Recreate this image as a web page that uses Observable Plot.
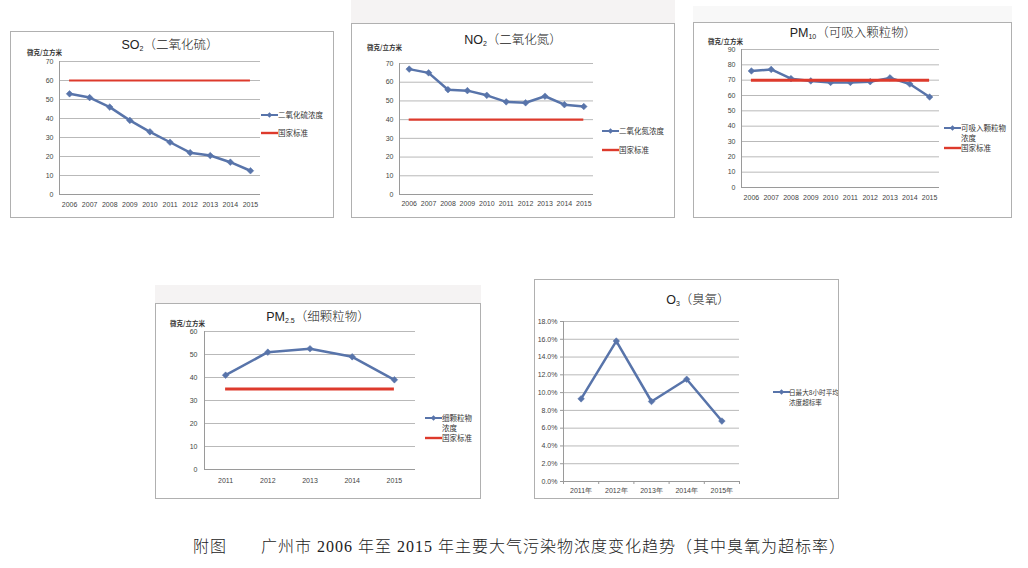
<!DOCTYPE html>
<html><head><meta charset="utf-8">
<script src="https://cdn.jsdelivr.net/npm/d3@7"></script>
<script src="https://cdn.jsdelivr.net/npm/@observablehq/plot@0.6"></script>
<style>
body{margin:0;background:#fff;}
#page{position:relative;width:1028px;height:568px;overflow:hidden;background:#fff;font-family:"Liberation Sans","Noto Sans CJK SC",sans-serif;}
.panel{position:absolute;background:#fff;overflow:hidden;}
.panel svg.plot{position:absolute;left:0;top:0;}
.border{position:absolute;left:0;top:0;right:0;bottom:0;border:1px solid #b0b0b0;box-sizing:border-box;pointer-events:none;}
.title{position:absolute;transform:translate(-50%,-50%);white-space:nowrap;font-size:12.5px;line-height:14px;color:#222;font-family:"Liberation Sans","Noto Sans CJK SC",sans-serif;font-weight:300;}
.title sub{font-size:7px;vertical-align:-2px;}
.unit{position:absolute;transform:translateY(-50%);white-space:nowrap;font-size:6.5px;line-height:8px;font-weight:bold;color:#333;font-family:"Noto Sans CJK SC",sans-serif;}
.legtext{position:absolute;white-space:nowrap;font-size:7.5px;line-height:10px;color:#333;font-family:"Noto Sans CJK SC",sans-serif;}
.shade{position:absolute;background:#f5f3f3;}
#caption{position:absolute;left:193px;top:538px;white-space:nowrap;font-size:16px;line-height:18px;letter-spacing:1px;color:#222;font-family:"Liberation Serif","Noto Sans CJK SC",serif;font-weight:300;}
</style>
</head><body>
<div id="page"></div>
<script>
// ---------------- data ----------------
const YEARS_10 = [2006, 2007, 2008, 2009, 2010, 2011, 2012, 2013, 2014, 2015];
const YEARS_5 = [2011, 2012, 2013, 2014, 2015];

const SO2 = [53, 51, 46, 39, 33, 27.5, 22, 20.5, 17, 12.5];
const SO2_STD = 60;
const NO2 = [67, 65, 56, 55.5, 53, 49.5, 49, 52.5, 48, 47];
const NO2_STD = 40;
const PM10 = [76, 77, 71, 69.5, 68.5, 68.5, 69, 71.5, 67.5, 59];
const PM10_STD = 70;
const PM25 = [41, 51, 52.5, 49, 39];
const PM25_STD = 35;
const O3 = [9.3, 15.8, 9.0, 11.5, 6.8];

const TICKS_0_70 = [0, 10, 20, 30, 40, 50, 60, 70];
const TICKS_0_90 = [0, 10, 20, 30, 40, 50, 60, 70, 80, 90];
const TICKS_0_60 = [0, 10, 20, 30, 40, 50, 60];
const TICKS_O3 = [0, 2, 4, 6, 8, 10, 12, 14, 16, 18];

const UNIT = "微克/立方米";
const STD_LABEL = "国家标准";
const CAPTION = "附图　　广州市 2006 年至 2015 年主要大气污染物浓度变化趋势（其中臭氧为超标率）";

// ---------------- style ----------------
const BLUE = "#5874aa";
const RED = "#dd3a2c";
const GRID = "#b9b9b9";
const AXIS = "#9a9a9a";
const TEXT = "#444";

const page = document.getElementById("page");

function el(tag, cls, parent, css, html) {
  const e = document.createElement(tag);
  if (cls) e.className = cls;
  if (css) Object.assign(e.style, css);
  if (html != null) e.innerHTML = html;
  parent.appendChild(e);
  return e;
}

function swatch(parent, x, y, kind) {
  const ns = "http://www.w3.org/2000/svg";
  const s = document.createElementNS(ns, "svg");
  s.setAttribute("width", 17); s.setAttribute("height", 8);
  Object.assign(s.style, {position: "absolute", left: x + "px", top: (y - 4) + "px"});
  const l = document.createElementNS(ns, "line");
  l.setAttribute("x1", 0); l.setAttribute("x2", 17); l.setAttribute("y1", 4); l.setAttribute("y2", 4);
  l.setAttribute("stroke", kind === "blue" ? BLUE : RED);
  l.setAttribute("stroke-width", kind === "blue" ? 2 : 2.4);
  s.appendChild(l);
  if (kind === "blue") {
    const d = document.createElementNS(ns, "path");
    d.setAttribute("d", "M8.5,1.2L11.3,4L8.5,6.8L5.7,4Z");
    d.setAttribute("fill", BLUE);
    s.appendChild(d);
  }
  parent.appendChild(s);
}

function drawPanel(p) {
  const panel = el("div", "panel", page, {left: p.left + "px", top: p.top + "px", width: p.w + "px", height: p.h + "px"});
  const data = p.years.map((year, i) => ({year, value: p.values[i]}));
  const xDomain = [d3.min(p.years) - 0.5, d3.max(p.years) + 0.5];
  const yDomain = [d3.min(p.yTicks), d3.max(p.yTicks)];
  const marks = [
    Plot.ruleY(p.yTicks.slice(1), {stroke: GRID, strokeWidth: 1}),
    Plot.ruleY([yDomain[0]], {stroke: AXIS, strokeWidth: 1}),
    Plot.ruleX([xDomain[0]], {stroke: AXIS, strokeWidth: 1}),
    Plot.axisY(p.yTicks, {tickSize: p.yTickSize || 0, tickPadding: p.yPad, tickFormat: p.yFormat, fill: TEXT, stroke: AXIS, label: null, fontSize: 7}),
    Plot.axisX(p.years, {tickSize: 0, tickPadding: p.xPad, tickFormat: p.xFormat, fill: TEXT, label: null, fontSize: 7})
  ];
  if (p.boundaryTicks) {
    marks.push(Plot.axisX(d3.range(xDomain[0], xDomain[1] + 0.5, 1), {tickSize: 3, tickFormat: () => "", stroke: AXIS, label: null}));
  }
  marks.push(
    Plot.lineY(data, {x: "year", y: "value", stroke: BLUE, strokeWidth: 2.5}),
    Plot.dot(data, {x: "year", y: "value", symbol: "diamond2", r: 3, fill: BLUE, stroke: BLUE, strokeWidth: 0.5})
  );
  if (p.std != null) {
    marks.push(Plot.ruleY([p.std], {x1: d3.min(p.years), x2: d3.max(p.years), stroke: RED, strokeWidth: p.stdWidth}));
  }
  const svg = Plot.plot({
    width: p.w, height: p.h,
    marginLeft: p.ml, marginRight: p.mr, marginTop: p.mt, marginBottom: p.mb,
    x: {domain: xDomain},
    y: {domain: yDomain},
    style: {background: "transparent", fontSize: "7px", fontFamily: "Liberation Sans, DejaVu Sans, sans-serif", color: TEXT, overflow: "visible"},
    marks
  });
  svg.classList.add("plot");
  panel.appendChild(svg);
  el("div", "title", panel, {left: p.titleX + "px", top: p.titleY + "px"}, p.title);
  if (p.unitY != null) el("div", "unit", panel, {left: p.unitX + "px", top: p.unitY + "px"}, UNIT);
  p.legend.forEach(item => {
    swatch(panel, item.x, item.y, item.kind);
    el("div", "legtext", panel, Object.assign({left: (item.x + (item.tx || 17)) + "px", top: (item.y - 5) + "px"}, item.css || {}), item.text);
  });
  el("div", "border", panel);
}

// shaded scan areas
el("div", "shade", page, {left: "351px", top: "0px", width: "324px", height: "23px"});
el("div", "shade", page, {left: "693px", top: "6px", width: "319px", height: "16px", background: "#f8f8f8"});
el("div", "shade", page, {left: "155px", top: "285px", width: "326px", height: "18px"});

drawPanel({
  left: 10, top: 31, w: 324, h: 187, ml: 49, mr: 74, mt: 30, mb: 24,
  years: YEARS_10, values: SO2, std: SO2_STD, stdWidth: 2.2, yTicks: TICKS_0_70,
  yPad: 6, xPad: 8, yFormat: d => String(d), xFormat: d => String(d),
  title: "SO<sub>2</sub>（二氧化硫）", titleX: 160, titleY: 16,
  unitX: 17, unitY: 21,
  legend: [{x: 251, y: 84, kind: "blue", text: "二氧化硫浓度"}, {x: 251, y: 102, kind: "red", text: STD_LABEL}]
});

drawPanel({
  left: 351, top: 23, w: 324, h: 195, ml: 48, mr: 82, mt: 40, mb: 24,
  years: YEARS_10, values: NO2, std: NO2_STD, stdWidth: 2.2, yTicks: TICKS_0_70,
  yPad: 6, xPad: 7, yFormat: d => String(d), xFormat: d => String(d),
  title: "NO<sub>2</sub>（二氧化氮）", titleX: 162, titleY: 19,
  unitX: 16, unitY: 24,
  legend: [{x: 251, y: 108, kind: "blue", text: "二氧化氮浓度"}, {x: 251, y: 127, kind: "red", text: STD_LABEL}]
});

drawPanel({
  left: 693, top: 22, w: 319, h: 196, ml: 48, mr: 73, mt: 27, mb: 31,
  years: YEARS_10, values: PM10, std: PM10_STD, stdWidth: 3, yTicks: TICKS_0_90,
  yPad: 6, xPad: 8, yFormat: d => String(d), xFormat: d => String(d),
  title: "PM<sub>10</sub>（可吸入颗粒物）", titleX: 160, titleY: 13,
  unitX: 15, unitY: 18.5,
  legend: [{x: 251, y: 106, kind: "blue", text: "可吸入颗粒物<br>浓度"}, {x: 251, y: 126, kind: "red", text: STD_LABEL}]
});

drawPanel({
  left: 155, top: 303, w: 326, h: 196, ml: 49, mr: 66, mt: 28, mb: 30,
  years: YEARS_5, values: PM25, std: PM25_STD, stdWidth: 3, yTicks: TICKS_0_60,
  yPad: 7, xPad: 9, yFormat: d => String(d), xFormat: d => String(d),
  title: "PM<sub>2.5</sub>（细颗粒物）", titleX: 163, titleY: 16,
  unitX: 15, unitY: 19.5,
  legend: [{x: 270, y: 115, kind: "blue", text: "细颗粒物<br>浓度"}, {x: 270, y: 135, kind: "red", text: STD_LABEL}]
});

drawPanel({
  left: 534, top: 279, w: 305, h: 220, ml: 29, mr: 100, mt: 42, mb: 18,
  years: YEARS_5, values: O3, std: null, yTicks: TICKS_O3, yTickSize: 3,
  yPad: 3, xPad: 7, yFormat: d => d.toFixed(1) + "%", xFormat: d => d + "年",
  boundaryTicks: true,
  title: "O<sub>3</sub>（臭氧）", titleX: 164, titleY: 23,
  unitY: null,
  legend: [{x: 239, y: 113, kind: "blue", tx: 16, text: "日最大8小时平均<br>浓度超标率", css: {fontSize: "6.6px"}}]
});

el("div", null, page, {}, "").id = "caption";
document.getElementById("caption").textContent = CAPTION;
</script>
</body></html>
